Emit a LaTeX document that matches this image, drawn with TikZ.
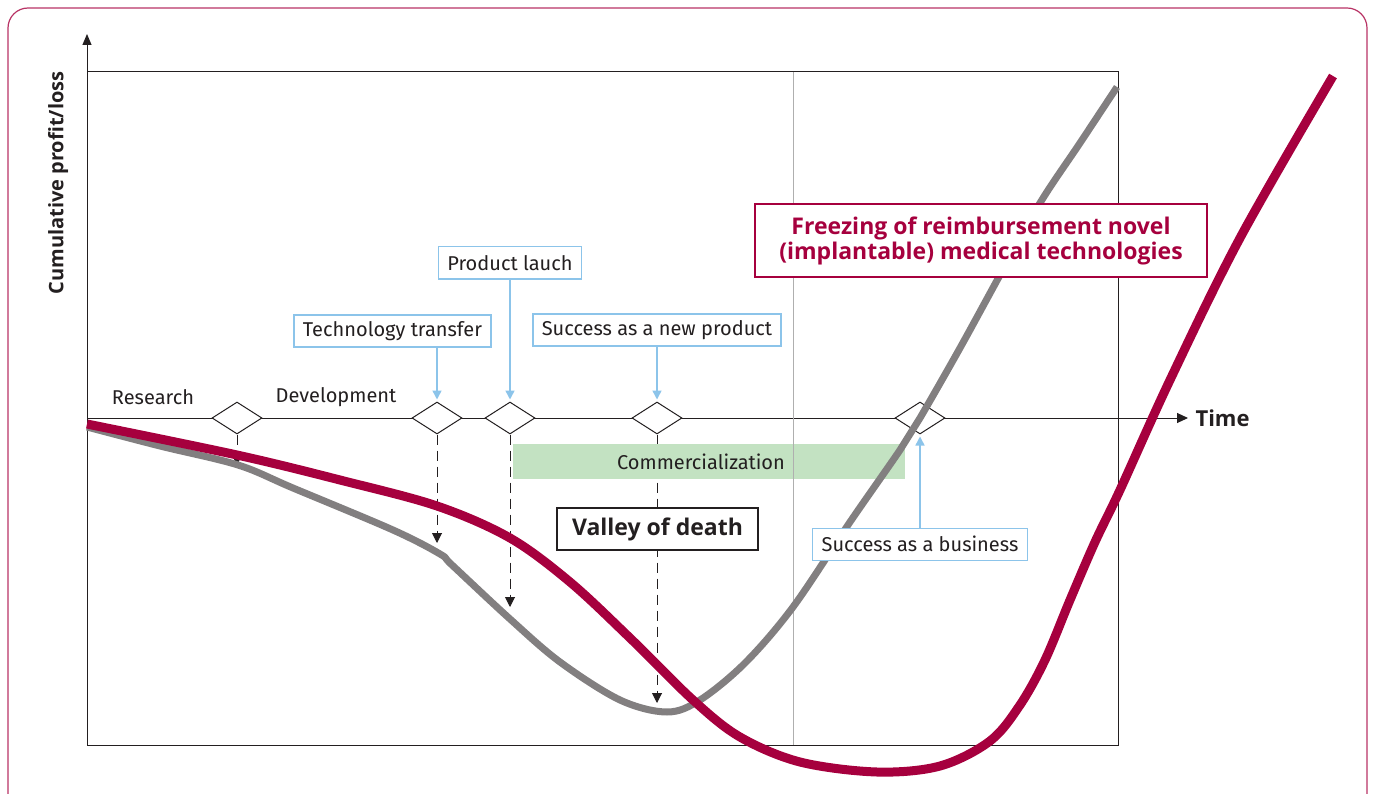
\documentclass[tikz,border=0pt]{standalone}
\usepackage{fontspec}
\setmainfont{Fira Sans}
\newfontfamily\headfont{Open Sans}
\usetikzlibrary{arrows.meta,positioning,shapes.geometric}
\definecolor{crimson}{RGB}{166,0,62}
\definecolor{curvegray}{RGB}{130,127,128}
\definecolor{skyline}{RGB}{140,196,234}
\definecolor{bandgreen}{RGB}{195,226,194}
\definecolor{ink}{RGB}{35,31,32}
\definecolor{gridgray}{RGB}{175,175,175}

\begin{document}
\begin{tikzpicture}[x=1pt,y=-1pt,font=\fontsize{20}{24}\selectfont,text=ink]
	\tikzstyle{milestone}
	  =[draw=ink, fill=white, diamond, minimum width=50pt, minimum height=32pt, inner sep=0pt, line width=1pt]
	\tikzstyle{event}
	  =[draw=skyline, fill=white, rectangle, line width=1.5pt, minimum height=32pt, inner xsep=9pt]
	\tikzstyle{eventarrow}
	  =[draw=skyline, line width=1.5pt, shorten >=2pt, -{Triangle[length=9pt,width=9pt]}]
	\tikzstyle{droparrow}
	  =[draw=ink, line width=1pt, dash pattern=on 10pt off 6pt, -{Triangle[length=10pt,width=10pt]}]
	\tikzstyle{curve}
	  =[line width=7pt, line join=round]

	\useasboundingbox (0,0) rectangle (1375,794);
	\draw[crimson!80, line width=1.2pt, rounded corners=20pt] (8,800) |- (1367,8) -- (1367,800);

	\draw[ink, line width=1pt] (87,72) -- (1118,72) -- (1118,745) -- (87,745);
	\draw[ink, line width=1pt, -{Triangle[length=11pt,width=9pt]}] (87,745) -- (87,34);
	\node[rotate=90, font=\fontsize{20}{24}\headfont\bfseries] (ylabel)
	  at (58,183) {Cumulative profit/loss};

	\coordinate (origin) at (87,418);
	\coordinate (tEnd) at (1188,418);
	\draw[ink, line width=1pt, -{Triangle[length=11pt,width=10pt]}] (origin) -- (tEnd);
	\node[font=\fontsize{22}{26}\headfont\bfseries] (time)
	  [right=4pt of tEnd] {Time};

	\node[milestone] (dRes) at (237,418) {};
	\node[milestone] (dTT) at (437,418) {};
	\node[milestone] (dPL) at (510,418) {};
	\node[milestone] (dNP) at (657,418) {};
	\node[milestone] (dBiz) at (920,418) {};

	\node[] (research) at (153,397) {Research};
	\node[] (development) at (336,397) {Development};

	\coordinate (gRes) at (237,465);
	\coordinate (gTT) at (437,543);
	\coordinate (gPL) at (510,607);
	\coordinate (gNP) at (657,703);
	\draw[droparrow] (dRes.south) -- (gRes);
	\draw[droparrow] (dTT.south) -- (gTT);
	\draw[droparrow] (dPL.south) -- (gPL);
	\draw[droparrow] (dNP.south) -- (gNP);

	\node[fill=bandgreen, minimum width=392pt, minimum height=35pt,
	  label={[xshift=-8pt]center:Commercialization}] (commerce)
	  at (709,461.5) {};
	\draw[gridgray, line width=1pt] (793,72) -- (793,745);

	\draw[curve, curvegray] plot[smooth, tension=0.55] coordinates {
	  (87,427) (160,446) (238,465) (293,488) (393,530) (440,554) (452,565)
	  (510,619) (560,662) (620,700) (667,712) (700,700) (745,663) (793,607)
	  (850,522) (900,450) (920,418) (960,348) (1000,275) (1040,203)
	  (1080,143) (1117,87)};
	\draw[curve, crimson, line width=9pt] plot[smooth, tension=0.55] coordinates {
	  (87,424) (237,455) (340,480) (437,506) (510,538) (570,582) (630,638)
	  (693,700) (740,737) (800,762) (877,772) (940,766) (990,741)
	  (1020,705) (1045,660) (1070,600) (1095,542) (1120,490) (1170,380)
	  (1240,238) (1333,76)};

	\node[event] (techtransfer) at (392.5,331) {Technology transfer};
	\node[event] (launch) [above=122pt of dPL] {Product lauch};
	\node[event] (newproduct) [above=55pt of dNP] {Success as a new product};
	\node[event] (business) [below=93pt of dBiz] {Success as a business};
	\draw[eventarrow] (techtransfer.south -| dTT) -- (dTT.north);
	\draw[eventarrow] (launch) -- (dPL.north);
	\draw[eventarrow] (newproduct) -- (dNP.north);
	\draw[eventarrow] (business) -- (dBiz.south);

	\node[draw=ink, line width=2pt, fill=white, minimum width=201pt, minimum height=42pt,
	  font=\fontsize{23}{27}\headfont\bfseries] (valley)
	  at (657.5,529) {Valley of death};
	\node[draw=crimson, line width=2pt, fill=white, minimum width=452pt, minimum height=72pt,
	  align=center, text=crimson, font=\fontsize{23}{25}\headfont\bfseries] (freezing)
	  at (981,240.5) {Freezing of reimbursement novel\\(implantable) medical technologies};
\end{tikzpicture}
\end{document}
